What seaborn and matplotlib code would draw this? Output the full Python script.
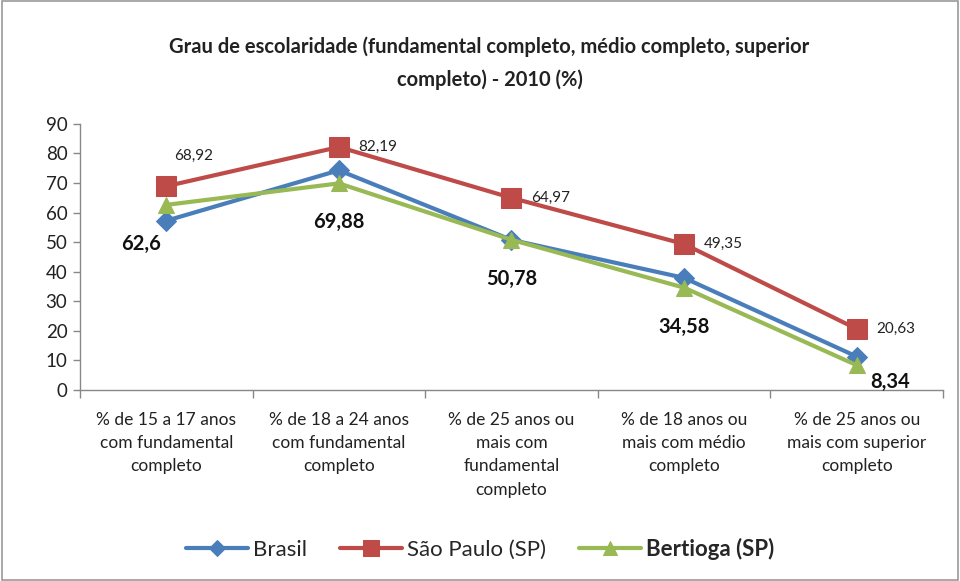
import matplotlib
matplotlib.use("Agg")
import matplotlib.pyplot as plt
import pandas as pd
import seaborn as sns

sns.set_theme(style="white")
plt.rcParams["font.family"] = ["Lato", "DejaVu Sans"]

categorias = [
    "% de 15 a 17 anos\ncom fundamental\ncompleto",
    "% de 18 a 24 anos\ncom fundamental\ncompleto",
    "% de 25 anos ou\nmais com\nfundamental\ncompleto",
    "% de 18 anos ou\nmais com médio\ncompleto",
    "% de 25 anos ou\nmais com superior\ncompleto",
]
brasil = [57.24, 74.3, 50.75, 37.89, 11.27]
sao_paulo = [68.92, 82.19, 64.97, 49.35, 20.63]
bertioga = [62.6, 69.88, 50.78, 34.58, 8.34]

series = ["Brasil", "São Paulo (SP)", "Bertioga (SP)"]
cores = ["#4A7EBB", "#BE4B48", "#98B954"]
marcadores = ["D", "s", "^"]
tamanhos = [10, 14, 12]

df = pd.DataFrame({
    "pos": list(range(len(categorias))) * 3,
    "valor": brasil + sao_paulo + bertioga,
    "serie": [s for s in series for _ in categorias],
})

fig = plt.figure(figsize=(9.6, 5.81), dpi=100)
ax = fig.add_axes([0.0833, 0.329, 0.8990, 0.4577])

for nome, cor, mk, ms in zip(series, cores, marcadores, tamanhos):
    sub = df[df.serie == nome]
    sns.lineplot(data=sub, x="pos", y="valor", ax=ax, color=cor, lw=3,
                 marker=mk, markersize=ms, markeredgecolor=cor, label=nome)

# rótulos de dados
for i, v in enumerate(sao_paulo):
    if i == 0:
        ax.annotate(f"{v:.2f}".replace(".", ","), (i, v), xytext=(20, 22),
                    textcoords="offset points", fontsize=11, color="#222222",
                    ha="center", va="center")
    else:
        ax.annotate(f"{v:.2f}".replace(".", ","), (i, v), xytext=(14, 0),
                    textcoords="offset points", fontsize=11, color="#222222",
                    ha="left", va="center")
for i, v in enumerate(bertioga):
    txt = f"{v:g}".replace(".", ",")
    if i == 4:
        ax.annotate(txt, (i, v), xytext=(10, -12), textcoords="offset points",
                    fontsize=14.5, fontweight="bold", color="#111111",
                    ha="left", va="center")
    else:
        off = (-18, -28) if i == 0 else (0, -28)
        ax.annotate(txt, (i, v), xytext=off, textcoords="offset points",
                    fontsize=14.5, fontweight="bold", color="#111111",
                    ha="center", va="center")

ax.set_xlim(-0.5, 4.5)
ax.set_ylim(0, 90)
ax.set_yticks(range(0, 91, 10))
ax.set_xticks(range(len(categorias)))
ax.set_xticklabels(categorias, fontsize=12.5, color="#222222", linespacing=1.55, va="top")
ax.set_xticks([k - 0.5 for k in range(len(categorias) + 1)], minor=True)
ax.tick_params(axis="x", which="major", length=0, pad=16)
ax.tick_params(axis="x", which="minor", length=6, width=1, color="#888888", direction="out", bottom=True)
ax.tick_params(axis="y", length=5, width=1, color="#888888", direction="out", left=True,
               labelsize=13.5, labelcolor="#222222", pad=4)
ax.set_xlabel("")
ax.set_ylabel("")
for s in ["top", "right"]:
    ax.spines[s].set_visible(False)
for s in ["left", "bottom"]:
    ax.spines[s].set_color("#888888")
    ax.spines[s].set_linewidth(1)

fig.text(0.51, 0.892, "Grau de escolaridade (fundamental completo, médio completo, superior\ncompleto) - 2010 (%)",
         ha="center", va="center", fontsize=14.5, fontweight="bold", color="#222222", linespacing=1.75)

leg = ax.legend(loc="center", bbox_to_anchor=(0.5, 0.055), bbox_transform=fig.transFigure,
                ncol=3, frameon=False, fontsize=16, handlelength=2.8, columnspacing=1.5,
                handletextpad=0.2, markerscale=0.8)
leg.get_texts()[2].set_fontweight("bold")

fig.patches.append(plt.Rectangle((0.002, 0.002), 0.996, 0.996, transform=fig.transFigure,
                                 fill=False, edgecolor="#9a9a9a", lw=1.2))

fig.savefig("out.png", dpi=100)
